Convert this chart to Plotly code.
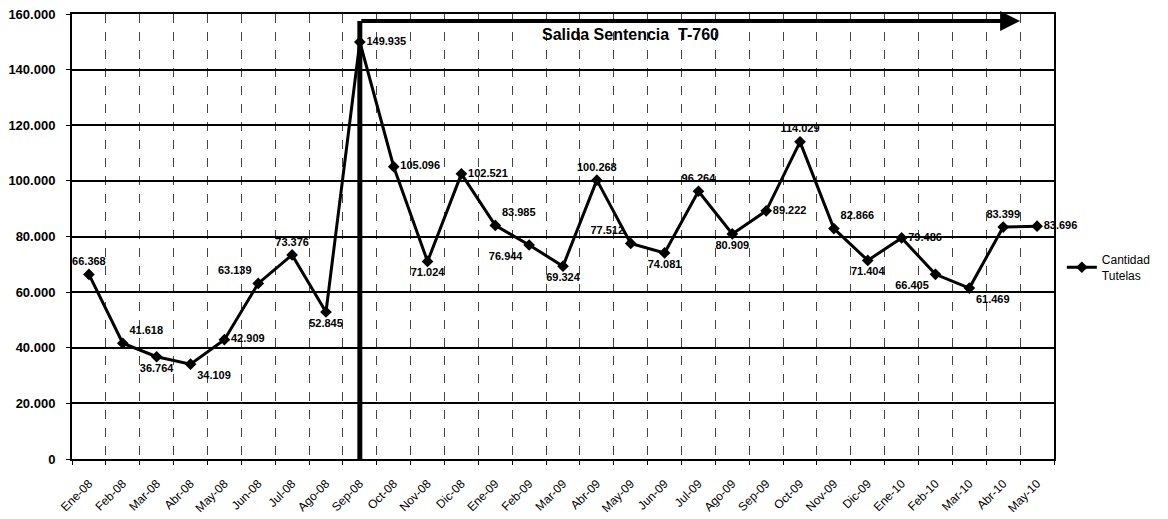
import plotly.graph_objects as go

# Monthly tutela counts, Jan 2008 - May 2010
months = [
    "Ene-08", "Feb-08", "Mar-08", "Abr-08", "May-08", "Jun-08", "Jul-08", "Ago-08",
    "Sep-08", "Oct-08", "Nov-08", "Dic-08", "Ene-09", "Feb-09", "Mar-09", "Abr-09",
    "May-09", "Jun-09", "Jul-09", "Ago-09", "Sep-09", "Oct-09", "Nov-09", "Dic-09",
    "Ene-10", "Feb-10", "Mar-10", "Abr-10", "May-10",
]
tutelas = [
    66368, 41618, 36764, 34109, 42909, 63139, 73376, 52845,
    149935, 105096, 71024, 102521, 83985, 76944, 69324, 100268,
    77512, 74081, 96264, 80909, 89222, 114029, 82866, 71404,
    79486, 66405, 61469, 83399, 83696,
]
label_pos = [
    "top center", "top right", "bottom center", "bottom right", "middle right",
    "top left", "top center", "bottom center", "middle right", "middle right",
    "bottom center", "middle right", "top right", "bottom left", "bottom center",
    "top center", "top left", "bottom center", "top center", "bottom center",
    "middle right", "top center", "top right", "bottom center", "middle right",
    "bottom left", "bottom right", "top center", "middle right",
]

ruling_month = "Sep-08"
ruling_text = "Salida Sentencia  T-760"
arrow_level = 157500

FONT = "Arial, Liberation Sans, sans-serif"


def fmt(v):
    return f"{v:,}".replace(",", ".")


fig = go.Figure()

fig.add_trace(
    go.Scatter(
        x=months,
        y=tutelas,
        name="Cantidad<br>Tutelas",
        mode="lines+markers+text",
        text=[fmt(v) for v in tutelas],
        textposition=label_pos,
        textfont=dict(family=FONT, size=11, color="#000000", weight="bold"),
        line=dict(color="#000000", width=3),
        marker=dict(symbol="diamond", size=9, color="#000000"),
        cliponaxis=False,
    )
)

ruling_idx = months.index(ruling_month)

# vertical bar at the ruling month
fig.add_shape(
    type="line",
    xref="x", yref="y",
    x0=ruling_idx, x1=ruling_idx,
    y0=0, y1=arrow_level,
    line=dict(color="#000000", width=5),
)

# horizontal arrow to the right
fig.add_annotation(
    x=27.5, y=arrow_level,
    ax=ruling_idx, ay=arrow_level,
    xref="x", yref="y", axref="x", ayref="y",
    text="",
    showarrow=True,
    arrowhead=2,
    arrowsize=1,
    arrowwidth=4,
    arrowcolor="#000000",
)

fig.add_annotation(
    x=16.0, y=152500,
    xref="x", yref="y",
    text="<b>" + ruling_text + "</b>",
    showarrow=False,
    font=dict(family=FONT, size=16, color="#000000"),
)

# page body has an 8px margin, so the figure is drawn 8px smaller
fig.update_layout(
    width=1160,
    height=511,
    autosize=False,
    paper_bgcolor="#ffffff",
    plot_bgcolor="#ffffff",
    separators=",.",
    margin=dict(l=64, r=114, t=6, b=60),
    showlegend=True,
    legend=dict(
        x=1.008, y=0.43,
        xanchor="left", yanchor="middle",
        font=dict(family=FONT, size=12, color="#000000"),
        bgcolor="rgba(0,0,0,0)",
    ),
    font=dict(family=FONT, color="#000000"),
)

fig.update_xaxes(
    type="category",
    range=[-0.5, len(months) - 0.5],
    tickson="boundaries",
    tickangle=-45,
    tickfont=dict(family=FONT, size=12, color="#000000"),
    showgrid=True,
    gridcolor="#444444",
    griddash="dash",
    gridwidth=1,
    showline=True,
    linecolor="#000000",
    linewidth=2,
    mirror=True,
    ticks="outside",
    ticklen=4,
    tickcolor="#000000",
    ticklabelstandoff=11,
    automargin=False,
)

fig.update_yaxes(
    range=[0, 160000],
    dtick=20000,
    tickformat=",.0f",
    tickfont=dict(family=FONT, size=13, color="#000000", weight="bold"),
    showgrid=True,
    gridcolor="#000000",
    gridwidth=1.5,
    zeroline=False,
    showline=True,
    linecolor="#000000",
    linewidth=2,
    mirror=True,
    ticks="outside",
    ticklen=4,
    tickcolor="#000000",
    ticklabelstandoff=8,
    ticklabeloverflow="allow",
    automargin=False,
)

fig.write_html("out.html")
